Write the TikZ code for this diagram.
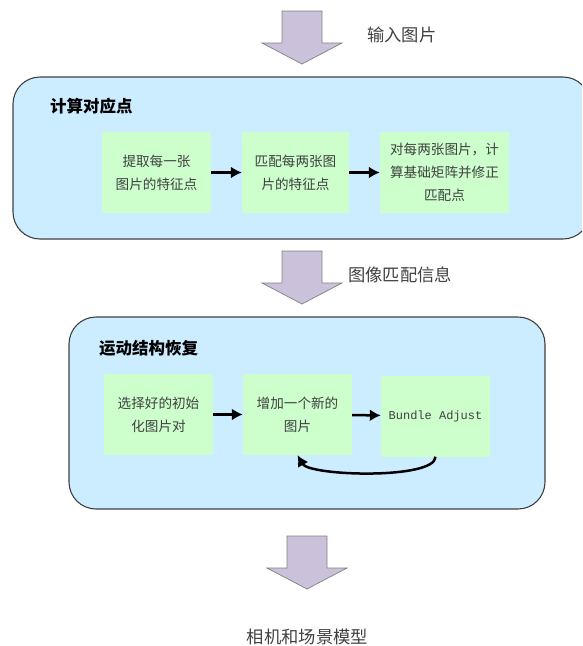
\documentclass[tikz,border=0pt]{standalone}
\usepackage{fontspec}
\usepackage{tikz}
\usetikzlibrary{arrows.meta}
\newfontfamily\cjk{Noto Sans CJK SC}
\newfontfamily\latinmono{Liberation Mono}
\definecolor{stageblue}{HTML}{CCECFF}
\definecolor{stepgreen}{HTML}{CCFFCC}
\definecolor{blocklilac}{HTML}{CCC1DA}
\definecolor{textgray}{HTML}{404040}
\tikzset{%
    stagebox/.style={draw=textgray,line width=1.1pt,fill=stageblue,rounded corners=27pt,inner sep=0pt},
    stepbox/.style={fill=stepgreen,inner sep=0pt,align=center,text=textgray,
        font=\cjk\fontsize{13.6}{23}\selectfont}
}

\begin{document}
\begin{tikzpicture}[
                x=1pt,y=-1pt,
                flow/.style={line width=2.5pt,-{Latex[length=11pt,width=12pt]}},
                bigarrow/.style={draw=gray,line width=0.7pt,fill=blocklilac},
                infolabel/.style={text=textgray,inner sep=0pt,font=\cjk\fontsize{17.3}{20}\selectfont},
                stagetitle/.style={anchor=west,inner sep=0pt,font=\cjk\bfseries\fontsize{16.5}{20}\selectfont}
            ]
            \useasboundingbox (0,0) rectangle (582,646);
            \begin{scope}
            \clip (0,0) rectangle (582,646);

            % stage 1
            \node[stagebox,minimum width=577pt,minimum height=162pt] (corr) at (301.5,158){};
            \node[stagetitle] (corrtitle) at (50,106){计算对应点};
            \node[stepbox,minimum width=109pt,minimum height=81pt] (ext) at (156.5,172.5){提取每一张\\图片的特征点};
            \node[stepbox,minimum width=107pt,minimum height=81pt] (match) at (295.5,172.5){匹配每两张图\\片的特征点};
            \node[stepbox,minimum width=129pt,minimum height=81pt] (fund) at (444.5,172.5){对每两张图片，计\\算基础矩阵并修正\\匹配点};

            \draw[flow] (ext) -- (match);
            \draw[flow] (match) -- (fund);

            % stage 2
            \node[stagebox,minimum width=476pt,minimum height=192pt] (sfm) at (307,413){};
            \node[stagetitle] (sfmtitle) at (99,348){运动结构恢复};
            \node[stepbox,minimum width=109pt,minimum height=81pt] (init) at (158.5,414.5){选择好的初始\\化图片对};
            \node[stepbox,minimum width=109pt,minimum height=81pt] (inc) at (297.5,414.5){增加一个新的\\图片};
            \node[stepbox,minimum width=109pt,minimum height=81pt,font=\latinmono\fontsize{12}{14}\selectfont] (ba) at (435.5,416){Bundle Adjust};

            \draw[flow] (init) -- (inc);
            \draw[flow] (inc) -- (ba);
            \draw[flow] (ba.south) .. controls +(0,23) and +(12,21) .. (inc.south);

            % block arrows and labels
            \draw[bigarrow] (282,11) -- ++(40,0) -- ++(0,32) -- ++(20,0) -- ++(-40,21) -- ++(-40,-21) -- ++(20,0) -- cycle;
            \draw[bigarrow] (282,251) -- ++(40,0) -- ++(0,32) -- ++(20,0) -- ++(-40,21) -- ++(-40,-21) -- ++(20,0) -- cycle;
            \draw[bigarrow] (287,536) -- ++(40,0) -- ++(0,32) -- ++(20,0) -- ++(-40,21) -- ++(-40,-21) -- ++(20,0) -- cycle;
            \node[infolabel,anchor=west] (input) at (367,35){输入图片};
            \node[infolabel,anchor=west] (pairs) at (348,275){图像匹配信息};
            \node[infolabel] (model) at (307.5,637){相机和场景模型};
            \end{scope}
        \end{tikzpicture}
\end{document}
